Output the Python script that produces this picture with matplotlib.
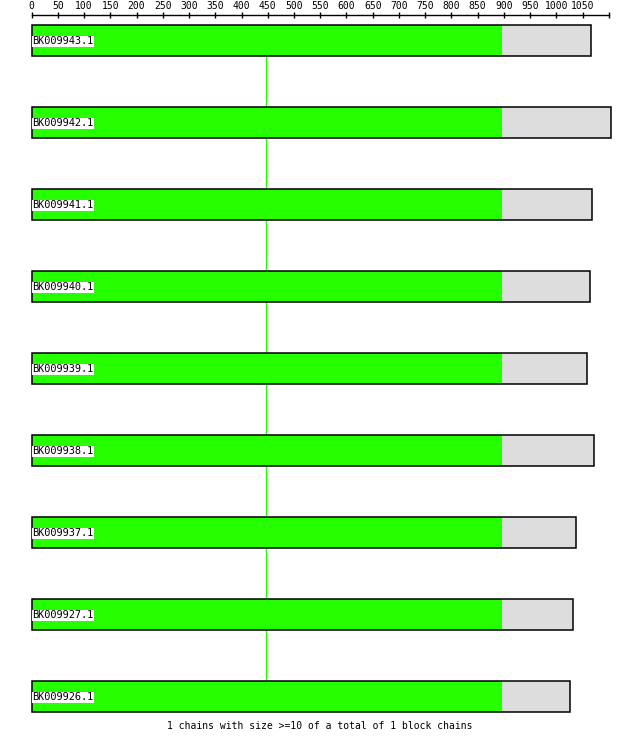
import matplotlib
matplotlib.use("Agg")
import matplotlib.pyplot as plt
import numpy as np

# chain members, top to bottom
names = ["BK009943.1", "BK009942.1", "BK009941.1", "BK009940.1", "BK009939.1",
         "BK009938.1", "BK009937.1", "BK009927.1", "BK009926.1"]
lengths = [1067, 1104, 1069, 1064, 1058, 1072, 1037, 1031, 1026]
block_end = [896, 896, 896, 896, 896, 896, 896, 896, 896]
link_pos = 447
tick_vals = list(range(0, 1101, 50))
tick_labels = [str(v) for v in range(0, 1051, 50)] + [""]
footer = "1 chains with size >=10 of a total of 1 block chains"

GREEN = "#26ff00"
GREY = "#dddddd"
FONT = "DejaVu Sans Mono"

W, H, DPI = 640, 738, 100
fig = plt.figure(figsize=(W / DPI, H / DPI), dpi=DPI)

# axes whose top edge is the ruler line (15 px from top)
ax_top = 15
ax = fig.add_axes([0, 0, 1, 1 - ax_top / H])
px_per_unit = 0.5246
x0_px = 31.7
ax.set_xlim(-x0_px / px_per_unit, (W - x0_px) / px_per_unit)
ax.set_ylim(H, ax_top)

centers = 40.7 + 82 * np.arange(len(names))
bar_h = 31

# connector line between blocks
ax.vlines(link_pos, centers[0], centers[-1], color=GREEN, lw=1.0, zorder=1)

for i, name in enumerate(names):
    c = centers[i]
    ax.barh(c, block_end[i], left=0, height=bar_h, color=GREEN, lw=0, zorder=2)
    ax.barh(c, lengths[i] - block_end[i], left=block_end[i], height=bar_h,
            color=GREY, lw=0, zorder=2)
    ax.barh(c, lengths[i], left=0, height=bar_h, fill=False,
            edgecolor="black", lw=1.1, zorder=3)
    ax.text(1, c + 0.5, name, family=FONT, fontsize=7.4, va="center", ha="left",
            color="black", zorder=4,
            bbox=dict(facecolor="white", edgecolor="none", pad=0.3))

for s in ["left", "right", "bottom"]:
    ax.spines[s].set_visible(False)
ax.spines["top"].set_bounds(0, tick_vals[-1])
ax.spines["top"].set_linewidth(1.0)
ax.xaxis.tick_top()
ax.set_xticks(tick_vals)
ax.set_xticklabels(tick_labels, family=FONT, fontsize=7)
ax.tick_params(axis="x", direction="inout", length=4.5, width=1.0, pad=0.5)
ax.set_yticks([])

fig.text(0.5, 1 - 726 / H, footer, family=FONT, fontsize=7, ha="center", va="center")

fig.savefig("out.png", dpi=DPI)
